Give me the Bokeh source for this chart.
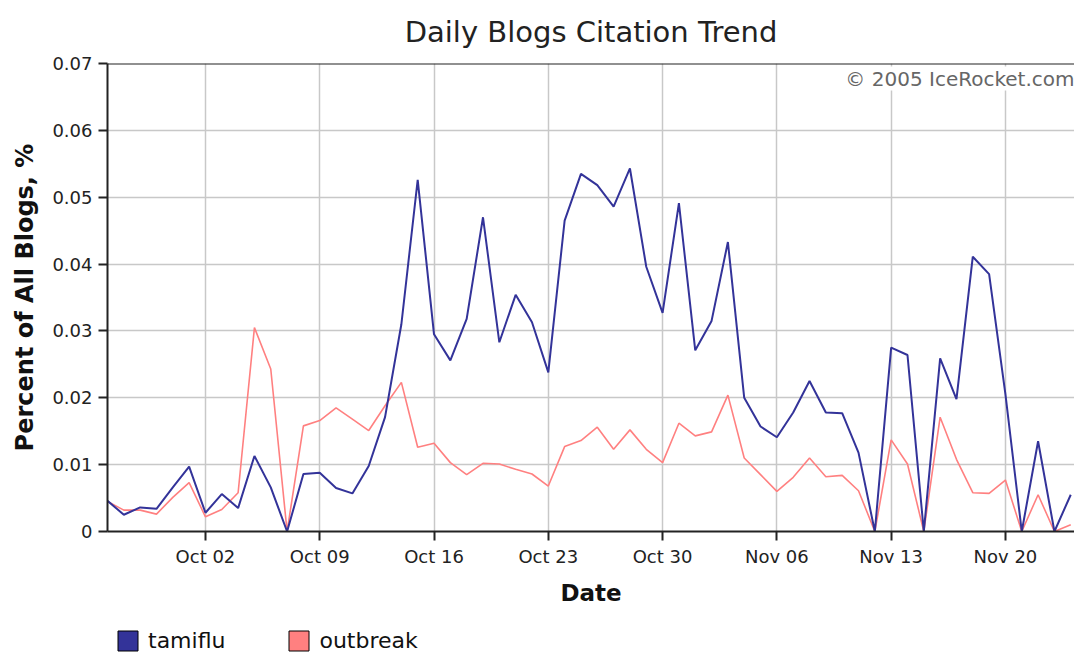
from datetime import datetime, timedelta
import pandas as pd
from bokeh.plotting import figure
from bokeh.layouts import column
from bokeh.models import (Range1d, FixedTicker, DatetimeTickFormatter, Label,
                          Legend, LegendItem, Span)
from bokeh.embed import file_html
from bokeh.resources import INLINE

# ---------------- data ----------------
start_date = "2005-09-26"
tamiflu = [0.0046, 0.0025, 0.0036, 0.0034, 0.0066,
           0.0097, 0.0028, 0.0056, 0.0035, 0.0113, 0.0066, 0.0, 0.0086, 0.0088, 0.0065,
           0.0057, 0.0098, 0.0171, 0.0310, 0.0526, 0.0295, 0.0256, 0.0318, 0.0470, 0.0283,
           0.0354, 0.0313, 0.0238, 0.0465, 0.0535, 0.0518, 0.0486, 0.0543, 0.0396, 0.0327,
           0.0491,
           0.0271, 0.0315, 0.0433, 0.0200, 0.0157, 0.0141, 0.0178, 0.0225, 0.0178, 0.0177,
           0.0118, 0.0, 0.0275, 0.0264, 0.0, 0.0259, 0.0198, 0.0411, 0.0385, 0.0205,
           0.0, 0.0135, 0.0, 0.0055]
outbreak = [0.0045, 0.0032, 0.0032, 0.0026, 0.0051,
            0.0073, 0.0022, 0.0033, 0.0058, 0.0305, 0.0243, 0.0, 0.0158, 0.0166, 0.0185,
            0.0168, 0.0151, 0.0188, 0.0223, 0.0126, 0.0132, 0.0103, 0.0085, 0.0102, 0.0101,
            0.0093, 0.0086, 0.0068, 0.0127, 0.0136, 0.0156, 0.0123, 0.0152, 0.0123, 0.0103,
            0.0162,
            0.0143, 0.0149, 0.0204, 0.0110, 0.0085, 0.0060, 0.0081, 0.0110, 0.0082, 0.0084,
            0.0061, 0.0, 0.0137, 0.0101, 0.0, 0.0171, 0.0108, 0.0058, 0.0057, 0.0077,
            0.0, 0.0055, 0.0, 0.0010]
series_names = ["tamiflu", "outbreak"]
x_tick_dates = ["2005-10-02", "2005-10-09", "2005-10-16", "2005-10-23",
                "2005-10-30", "2005-11-06", "2005-11-13", "2005-11-20"]
y_ticks = [0, 0.01, 0.02, 0.03, 0.04, 0.05, 0.06, 0.07]
y_tick_labels = ["0", "0.01", "0.02", "0.03", "0.04", "0.05", "0.06", "0.07"]

dates = pd.date_range(start_date, periods=len(tamiflu), freq="D")

# ---------------- styling ----------------
FONT = "DejaVu Sans"
BLUE = "#333399"
PINK = "#ff8080"
GRID = "#c8c8c8"
AXIS = "#222222"

x_start = datetime(2005, 9, 26)
x_end = x_start + timedelta(days=59.23)

def ms(d):
    return pd.Timestamp(d).value // 10**6

p = figure(width=1074, height=617, x_axis_type="datetime",
           x_range=Range1d(start=x_start, end=x_end),
           y_range=Range1d(start=0, end=0.07),
           output_backend="svg", toolbar_location=None,
           min_border_left=107, min_border_right=0,
           min_border_top=63, min_border_bottom=86,
           title="Daily Blogs Citation Trend")

p.title.text_font = FONT
p.title.text_font_size = "29px"
p.title.text_font_style = "normal"
p.title.text_color = "#222222"
p.title.align = "center"
p.title.vertical_align = "top"
p.title.offset = 3
p.title.standoff = 26

p.outline_line_color = None
p.background_fill_color = "white"
p.border_fill_color = "white"

# axes
xt = FixedTicker(ticks=[ms(d) for d in x_tick_dates])
p.xaxis.ticker = xt
p.xaxis.formatter = DatetimeTickFormatter(days="%b %d", months="%b %d")
p.xgrid.ticker = xt
yt = FixedTicker(ticks=y_ticks)
p.yaxis.ticker = yt
p.ygrid.ticker = yt
p.yaxis.major_label_overrides = {t: l for t, l in zip(y_ticks, y_tick_labels)}

for ax in (p.xaxis, p.yaxis):
    ax.axis_line_color = AXIS
    ax.axis_line_width = 2
    ax.major_tick_line_color = AXIS
    ax.major_tick_line_width = 2
    ax.major_tick_in = 0
    ax.major_tick_out = 9
    ax.minor_tick_line_color = None
    ax.major_label_text_font = FONT
    ax.major_label_text_font_size = "18px"
    ax.major_label_text_color = "#222222"
    ax.axis_label_text_font = FONT
    ax.axis_label_text_font_style = "bold"
    ax.axis_label_text_color = "#111111"

p.xaxis.axis_label = "Date"
p.yaxis.axis_label = "Percent of All Blogs, %"
p.xaxis.axis_label_text_font_size = "23px"
p.yaxis.axis_label_text_font_size = "24px"
p.xaxis.major_label_standoff = 5
p.yaxis.major_label_standoff = 6
p.xaxis.axis_label_standoff = 10
p.yaxis.axis_label_standoff = 10

p.grid.grid_line_color = GRID
p.grid.grid_line_width = 1.5

# top border
p.add_layout(Span(location=0.07, dimension="width", line_color=AXIS, line_width=2))

# lines
p.line(dates, outbreak, line_color=PINK, line_width=1.6)
p.line(dates, tamiflu, line_color=BLUE, line_width=2)

# copyright
p.add_layout(Label(x=ms(x_end), y=0.07, text="\u00a9 2005 IceRocket.com",
                   text_align="right", text_baseline="top", y_offset=-3,
                   text_font=FONT, text_font_size="20px", text_color="#666666",
                   background_fill_color="white"))

# ---------------- legend strip ----------------
lg = figure(width=1074, height=36, output_backend="svg", toolbar_location=None,
            x_range=Range1d(0, 1), y_range=Range1d(0, 1),
            x_axis_location=None, y_axis_location=None,
            min_border=0, min_border_left=0, min_border_right=0,
            min_border_top=0, min_border_bottom=0)
lg.outline_line_color = None
lg.grid.visible = False
nan = float("nan")
r1 = lg.quad(left=[nan], right=[nan], top=[nan], bottom=[nan],
             fill_color=BLUE, line_color="black", line_width=1)
r2 = lg.quad(left=[nan], right=[nan], top=[nan], bottom=[nan],
             fill_color=PINK, line_color="black", line_width=1)
legend = Legend(items=[LegendItem(label=series_names[0], renderers=[r1]),
                       LegendItem(label=series_names[1], renderers=[r2])],
                orientation="horizontal", location=(8, 0),
                glyph_width=25, glyph_height=25, label_standoff=8, spacing=61,
                padding=0, margin=0, border_line_color=None, background_fill_alpha=0,
                label_text_font=FONT, label_text_font_size="22px",
                label_text_color="#111111")
lg.add_layout(legend)

layout = column(p, lg, spacing=0)
open("out.html", "w").write(file_html(layout, INLINE))
